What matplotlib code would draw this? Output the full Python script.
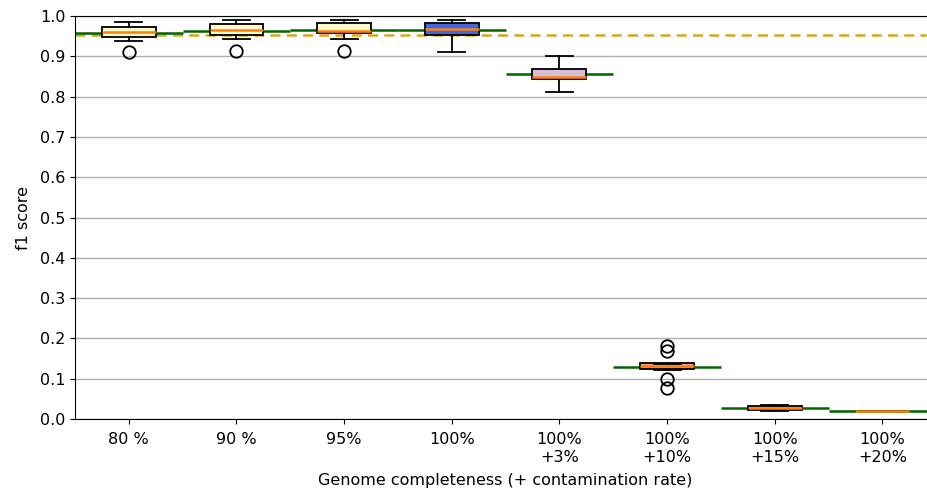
import matplotlib
matplotlib.use("Agg")
import matplotlib.pyplot as plt

# groups along the x axis
labels = ["80 %", "90 %", "95%", "100%", "100%\n+3%", "100%\n+10%", "100%\n+15%", "100%\n+20%"]

# per-group box statistics for the f1 score
medians = [0.960, 0.965, 0.963, 0.968, 0.849, 0.131, 0.027, 0.021]
q1 = [0.949, 0.952, 0.957, 0.954, 0.844, 0.123, 0.022, 0.021]
q3 = [0.972, 0.979, 0.982, 0.983, 0.868, 0.140, 0.032, 0.021]
whisker_low = [0.938, 0.942, 0.944, 0.910, 0.811, 0.121, 0.020, 0.021]
whisker_high = [0.984, 0.991, 0.991, 0.990, 0.901, 0.137, 0.034, 0.021]
outliers = [[0.911], [0.913], [0.913], [], [], [0.181, 0.168, 0.099, 0.078], [], []]

# mean f1 per group and the reference level
means = [0.957, 0.963, 0.965, 0.965, 0.855, 0.130, 0.027, 0.021]
reference = 0.954

box_colors = ["lemonchiffon", "lemonchiffon", "lemonchiffon", "royalblue",
              "thistle", "lightsalmon", "lightsalmon", "lightsalmon"]

stats = []
for i in range(len(labels)):
    stats.append({
        "med": medians[i], "q1": q1[i], "q3": q3[i],
        "whislo": whisker_low[i], "whishi": whisker_high[i],
        "fliers": outliers[i], "label": labels[i],
    })

fig = plt.figure(figsize=(9.28, 4.93), dpi=100)
ax = fig.add_axes([0.0808, 0.150, 0.928, 0.8175])

positions = list(range(1, len(labels) + 1))
bp = ax.bxp(stats, positions=positions, widths=0.5, patch_artist=True,
            boxprops=dict(linewidth=1.3, edgecolor="black"),
            whiskerprops=dict(linewidth=1.3),
            capprops=dict(linewidth=1.3),
            medianprops=dict(color="#ff7f0e", linewidth=1.8),
            flierprops=dict(marker="o", markersize=9, markerfacecolor="none",
                            markeredgecolor="black", markeredgewidth=1.3))
for patch, c in zip(bp["boxes"], box_colors):
    patch.set_facecolor(c)

ax.axhline(reference, color="#daa520", linestyle="--", linewidth=1.8, dashes=(4, 2.5), zorder=1)
ax.hlines(means, [p - 0.5 for p in positions], [p + 0.5 for p in positions],
          color="darkgreen", linewidth=1.8, zorder=1.5)

ax.set_xlim(0.5, 8.5)
ax.set_ylim(0, 1)
ax.set_yticks([i / 10 for i in range(11)])
ax.set_xticks(positions)
ax.set_xticklabels(labels)
ax.yaxis.grid(True, color="#b0b0b0", linewidth=1)
ax.set_axisbelow(True)
ax.tick_params(labelsize=11.5)
ax.tick_params(axis="x", pad=6)
ax.set_ylabel("f1 score", fontsize=11.5, labelpad=6)
ax.set_xlabel("Genome completeness (+ contamination rate)", fontsize=11.5, labelpad=6)

fig.savefig("out.png", dpi=100)
